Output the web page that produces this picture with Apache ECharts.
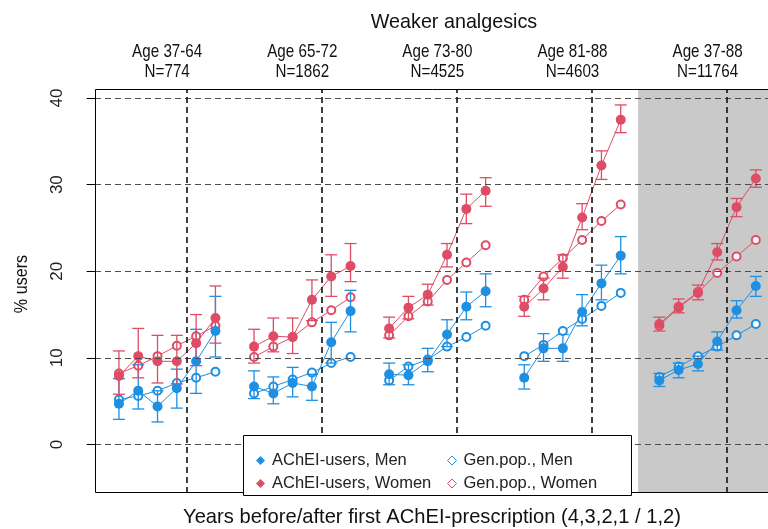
<!DOCTYPE html>
<html><head><meta charset="utf-8">
<script src="https://cdn.jsdelivr.net/npm/echarts@6/dist/echarts.min.js"></script>
<style>html,body{margin:0;padding:0;background:#fff}#c{width:768px;height:529px}</style>
</head><body><div id="c"></div>
<script>
// ---- data ----
const panelAges = ['Age 37-64','Age 65-72','Age 73-80','Age 81-88','Age 37-88'];
const panelN = ['N=774','N=1862','N=4525','N=4603','N=11764'];
const yTicks = [0,10,20,30,40];

const acheiMen = [
  [4.7,6.2,4.4,6.5,9.6,13.1],
  [6.7,5.9,7.1,6.7,11.8,15.4],
  [8.1,8.0,9.6,12.7,15.9,17.7],
  [7.7,11.1,11.1,15.3,18.6,21.8],
  [7.4,8.6,9.3,11.9,15.5,18.3]];
const acheiMenLo = [
  [2.9,4.1,2.6,4.2,5.9,10.1],
  [5.3,4.7,5.5,5.1,9.4,13.0],
  [6.9,6.9,8.4,11.3,14.4,15.9],
  [6.4,9.6,9.6,13.7,16.7,19.7],
  [6.7,7.7,8.5,10.9,14.6,17.1]];
const acheiMenHi = [
  [7.6,9.2,6.2,8.7,13.3,17.1],
  [8.5,7.8,8.9,8.1,14.1,17.8],
  [9.4,9.2,11.1,14.4,17.6,19.7],
  [9.2,12.8,12.7,17.3,20.7,24.0],
  [8.2,9.4,10.2,13.0,16.6,19.4]];
const genMen = [
  [5.2,5.6,6.2,7.1,7.7,8.4],
  [5.9,6.7,7.5,8.3,9.4,10.1],
  [7.4,9.0,9.8,11.3,12.4,13.7],
  [10.2,11.5,13.1,14.5,16.0,17.5],
  [7.8,9.0,10.2,11.3,12.6,13.9]];
const acheiWomen = [
  [7.9,10.2,9.6,9.6,11.7,14.6],
  [11.3,12.5,12.4,16.7,19.4,20.6],
  [13.4,15.8,17.3,21.9,27.2,29.3],
  [15.9,18.0,20.5,26.2,32.2,37.5],
  [13.9,15.9,17.6,22.2,27.4,30.7]];
const acheiWomenLo = [
  [5.8,7.7,7.1,7.0,9.1,11.7],
  [9.4,10.7,10.5,14.3,17.1,18.8],
  [12.3,14.5,16.1,20.5,25.5,27.5],
  [14.8,16.7,19.2,24.8,30.6,36.0],
  [13.1,15.2,16.7,21.3,26.3,29.7]];
const acheiWomenHi = [
  [10.8,13.4,12.6,12.6,15.0,18.3],
  [13.3,14.6,14.6,19.0,21.9,23.2],
  [14.7,17.1,18.5,23.2,28.9,30.8],
  [17.1,19.2,21.9,27.8,33.9,39.2],
  [14.7,16.8,18.4,23.2,28.4,31.7]];
const genWomen = [
  [8.2,9.1,10.2,11.4,12.5,13.7],
  [10.1,11.3,12.4,14.1,15.5,17.0],
  [12.6,14.8,16.5,19.0,21.0,23.0],
  [16.7,19.4,21.5,23.6,25.8,27.7],
  [13.7,15.8,17.5,19.8,21.7,23.6]];

// ---- helpers ----
const BLUE = '#1f8fe2', RED = '#df4c66';
const GROUP = 7;
const posOf = (g, i) => g * GROUP + i + 1;
function lineData(vals) {
  const out = [];
  vals.forEach((grp, g) => {
    grp.forEach((v, i) => out.push([posOf(g, i), v]));
    out.push([posOf(g, 5) + 0.5, '-']);
  });
  return out;
}
function errData(lo, hi) {
  const out = [];
  lo.forEach((grp, g) => grp.forEach((v, i) => out.push([posOf(g, i), v, hi[g][i]])));
  return out;
}
function errRender(color) {
  return function (params, api) {
    const x = api.value(0);
    const a = api.coord([x, api.value(1)]);
    const b = api.coord([x, api.value(2)]);
    const w = 6, st = { stroke: color, lineWidth: 1.3, fill: null };
    return { type: 'group', children: [
      { type: 'line', shape: { x1: a[0], y1: a[1], x2: b[0], y2: b[1] }, style: st },
      { type: 'line', shape: { x1: a[0] - w, y1: a[1], x2: a[0] + w, y2: a[1] }, style: st },
      { type: 'line', shape: { x1: b[0] - w, y1: b[1], x2: b[0] + w, y2: b[1] }, style: st }
    ]};
  };
}
const dividers = panelAges.map((_, g) => g * GROUP + 4.5);
const centers = panelAges.map((_, g) => g * GROUP + 3.5);
const grayStart = 27.9;
const XMIN = -0.24, XMAX = 34.63, YMIN = -5.6, YMAX = 41.04;
const FONT = "'Liberation Sans', Arial, sans-serif";

const chart = echarts.init(document.getElementById('c'), null, { renderer: 'canvas' });
const option = {
  animation: false,
  backgroundColor: '#fff',
  grid: { left: 95, right: 0, top: 89, bottom: 36, show: false },
  xAxis: { type: 'value', min: XMIN, max: XMAX, show: false, splitLine: { show: false } },
  yAxis: { type: 'value', min: YMIN, max: YMAX,
    axisLine: { show: false }, splitLine: { show: false },
    axisTick: { show: true, length: 13, customValues: yTicks, lineStyle: { color: '#000', width: 1 } },
    axisLabel: { customValues: yTicks, rotate: 90, margin: 29, fontSize: 17, color: '#222', fontFamily: FONT } },
  legend: [
    { data: [{ name: 'AChEI-users, Men', icon: 'diamond' }, { name: 'AChEI-users, Women', icon: 'diamond' }],
      orient: 'vertical', left: 251, top: 447, itemWidth: 9, itemHeight: 9, itemGap: 6, z: 200,
      textStyle: { fontSize: 16.5, color: '#222', fontFamily: FONT, padding: [0, 0, 0, 2] } },
    { data: [
        { name: 'Gen.pop., Men', icon: 'diamond', itemStyle: { color: '#fff', borderColor: BLUE, borderWidth: 1 } },
        { name: 'Gen.pop., Women', icon: 'diamond', itemStyle: { color: '#fff', borderColor: RED, borderWidth: 1 } }],
      orient: 'vertical', left: 442, top: 447, itemWidth: 9, itemHeight: 9, itemGap: 6, z: 200,
      textStyle: { fontSize: 16.5, color: '#222', fontFamily: FONT, padding: [0, 0, 0, 2] } }
  ],
  series: [
    { type: 'line', name: 'bg', data: [], z: 0, silent: true,
      markArea: { silent: true, itemStyle: { color: '#c9c9c9' }, data: [[{ xAxis: grayStart }, { xAxis: XMAX }]] },
      markLine: { silent: true, symbol: 'none', label: { show: false },
        data: yTicks.map(v => ({ yAxis: v, lineStyle: { color: '#4d4d4d', type: [6, 4], width: 1.2 } }))
          .concat(dividers.map(v => ({ xAxis: v, lineStyle: { color: '#111', type: [6, 4], width: 1.6 } }))) } },
    { type: 'line', name: 'Gen.pop., Men', data: lineData(genMen), z: 2, symbol: 'emptyCircle', symbolSize: 8,
      itemStyle: { color: BLUE, borderWidth: 1 }, lineStyle: { color: BLUE, width: 1 }, connectNulls: false },
    { type: 'line', name: 'Gen.pop., Women', data: lineData(genWomen), z: 2, symbol: 'emptyCircle', symbolSize: 8,
      itemStyle: { color: RED, borderWidth: 1 }, lineStyle: { color: RED, width: 1 }, connectNulls: false },
    { type: 'custom', name: 'errMen', data: errData(acheiMenLo, acheiMenHi), renderItem: errRender(BLUE), encode: { x: 0, y: [1, 2] }, z: 3, silent: true },
    { type: 'custom', name: 'errWomen', data: errData(acheiWomenLo, acheiWomenHi), renderItem: errRender(RED), encode: { x: 0, y: [1, 2] }, z: 3, silent: true },
    { type: 'line', name: 'AChEI-users, Men', data: lineData(acheiMen), z: 4, symbol: 'circle', symbolSize: 10,
      itemStyle: { color: BLUE }, lineStyle: { color: BLUE, width: 1 }, connectNulls: false },
    { type: 'line', name: 'AChEI-users, Women', data: lineData(acheiWomen), z: 4, symbol: 'circle', symbolSize: 10,
      itemStyle: { color: RED }, lineStyle: { color: RED, width: 1 }, connectNulls: false }
  ]
};
chart.setOption(option);

// text elements; panel headers placed through the axis scale
const gfx = [
  { type: 'rect', z: 50, shape: { x: 95.5, y: 89.5, width: 720, height: 403 }, style: { fill: null, stroke: '#000', lineWidth: 1 } },
  { type: 'rect', z: 60, shape: { x: 243.5, y: 435.5, width: 388, height: 60 }, style: { fill: '#fff', stroke: '#000', lineWidth: 1 } },
  { type: 'text', z: 60, x: 454, y: 22, scaleX: 0.94, style: { text: 'Weaker analgesics', x: 0, y: 0, textAlign: 'center', textVerticalAlign: 'middle', font: '21px ' + FONT, fill: '#111' } },
  { type: 'text', z: 60, rotation: Math.PI / 2, x: 22, y: 284, scaleX: 0.85, style: { text: '% users', x: 0, y: 0, textAlign: 'center', textVerticalAlign: 'middle', font: '19px ' + FONT, fill: '#111' } },
  { type: 'text', z: 60, x: 432, y: 517, scaleX: 0.96, style: { text: 'Years before/after first AChEI-prescription (4,3,2,1 / 1,2)', x: 0, y: 0, textAlign: 'center', textVerticalAlign: 'middle', font: '21px ' + FONT, fill: '#111' } }
];
centers.forEach((c, g) => {
  const px = chart.convertToPixel({ xAxisIndex: 0 }, c);
  gfx.push({ type: 'text', z: 60, x: px, y: 52, scaleX: 0.8, style: { text: panelAges[g], x: 0, y: 0, textAlign: 'center', textVerticalAlign: 'middle', font: '19px ' + FONT, fill: '#111' } });
  gfx.push({ type: 'text', z: 60, x: px, y: 72, scaleX: 0.8, style: { text: panelN[g], x: 0, y: 0, textAlign: 'center', textVerticalAlign: 'middle', font: '19px ' + FONT, fill: '#111' } });
});
chart.setOption({ graphic: gfx });
</script>
</body></html>
